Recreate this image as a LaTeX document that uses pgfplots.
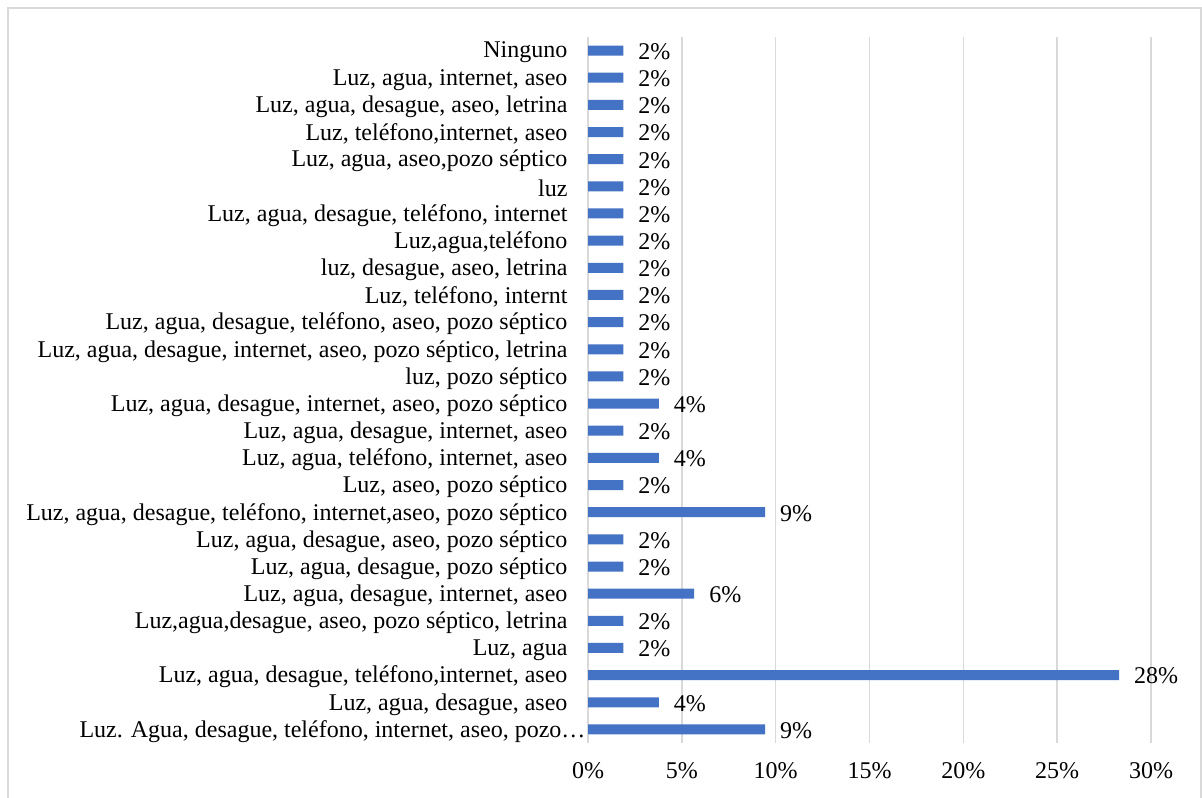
\documentclass[border=0pt]{standalone}
\usepackage{pgfplots}
\pgfplotsset{compat=1.18}
\usepackage{fontspec}
\setmainfont{Liberation Serif}
\definecolor{barblue}{HTML}{4472C4}
\definecolor{gridgray}{HTML}{D9D9D9}
\begin{document}
\begin{tikzpicture}
\useasboundingbox (0,0) rectangle (601pt,398.5pt);
\fill[white] (0,0) rectangle (601pt,398.5pt);
\draw[gridgray, line width=0.8pt] (4pt,-5pt) rectangle (600.5pt,394.5pt);
\begin{axis}[
  at={(294pt,27pt)}, anchor=south west,
  scale only axis, width=281.5pt, height=353pt,
  xbar, bar width=5pt,
  xmin=0, xmax=30, ymin=-0.5, ymax=25.5,
  xtick={0,5,10,15,20,25,30},
  xticklabels={0\%,5\%,10\%,15\%,20\%,25\%,30\%},
  ytick={0,...,25},
  yticklabels={
    {Luz. Agua, desague, teléfono, internet, aseo, pozo…\kern-9pt},
    {Luz, agua, desague, aseo},
    {Luz, agua, desague, teléfono,internet, aseo},
    {Luz, agua},
    {Luz,agua,desague, aseo, pozo séptico, letrina},
    {Luz, agua, desague, internet, aseo},
    {Luz, agua, desague, pozo séptico},
    {Luz, agua, desague, aseo, pozo séptico},
    {Luz, agua, desague, teléfono, internet,aseo, pozo séptico},
    {Luz, aseo, pozo séptico},
    {Luz, agua, teléfono, internet, aseo},
    {Luz, agua, desague, internet, aseo},
    {Luz, agua, desague, internet, aseo, pozo séptico},
    {luz, pozo séptico},
    {Luz, agua, desague, internet, aseo, pozo séptico, letrina},
    {Luz, agua, desague, teléfono, aseo, pozo séptico},
    {Luz, teléfono, internt},
    {luz, desague, aseo, letrina},
    {Luz,agua,teléfono},
    {Luz, agua, desague, teléfono, internet},
    {luz},
    {Luz, agua, aseo,pozo séptico},
    {Luz, teléfono,internet, aseo},
    {Luz, agua, desague, aseo, letrina},
    {Luz, agua, internet, aseo},
    {Ninguno}},
  xmajorgrids, major grid style={gridgray, line width=0.8pt},
  axis line style={draw=none},
  major tick style={draw=none},
  tick label style={font=\fontsize{12}{14}\selectfont},
  yticklabel style={xshift=-2.5pt, yshift=-1pt},
  xticklabel style={yshift=-6pt},
  nodes near coords,
  point meta=explicit symbolic,
  every node near coord/.append style={font=\fontsize{12}{14}\selectfont, anchor=west, xshift=4pt, yshift=-0.5pt},
]
\addplot[fill=barblue, draw=none] coordinates {
  (9.434,0) [9\%]
  (3.774,1) [4\%]
  (28.302,2) [28\%]
  (1.887,3) [2\%]
  (1.887,4) [2\%]
  (5.660,5) [6\%]
  (1.887,6) [2\%]
  (1.887,7) [2\%]
  (9.434,8) [9\%]
  (1.887,9) [2\%]
  (3.774,10) [4\%]
  (1.887,11) [2\%]
  (3.774,12) [4\%]
  (1.887,13) [2\%]
  (1.887,14) [2\%]
  (1.887,15) [2\%]
  (1.887,16) [2\%]
  (1.887,17) [2\%]
  (1.887,18) [2\%]
  (1.887,19) [2\%]
  (1.887,20) [2\%]
  (1.887,21) [2\%]
  (1.887,22) [2\%]
  (1.887,23) [2\%]
  (1.887,24) [2\%]
  (1.887,25) [2\%]
};
\end{axis}
\end{tikzpicture}
\end{document}
